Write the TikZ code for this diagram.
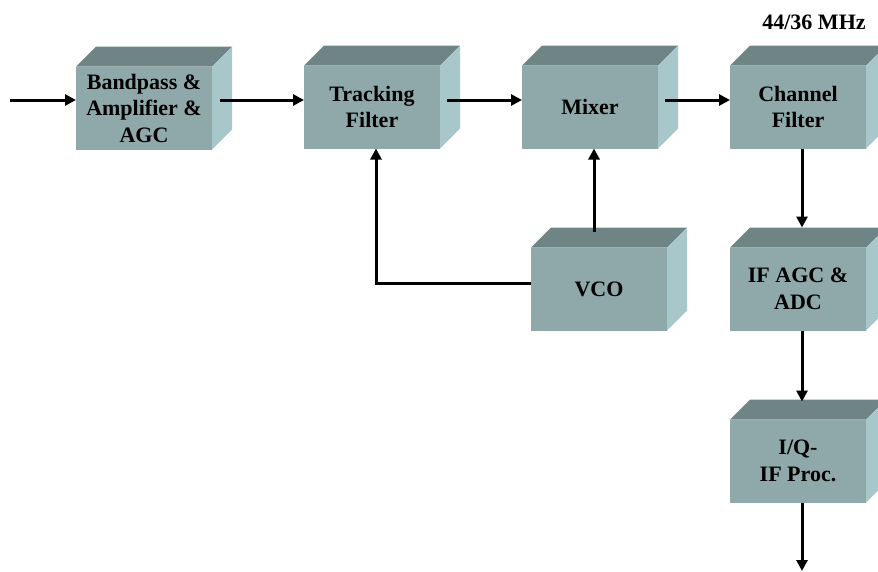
\documentclass[tikz,border=0pt]{standalone}
\usepackage{fontspec}
\setmainfont{Liberation Serif}
\usetikzlibrary{arrows.meta}
\definecolor{frontc}{RGB}{143,169,171}
\definecolor{topc}{RGB}{111,132,132}
\definecolor{sidec}{RGB}{168,199,202}
\tikzset{
  blk/.style={fill=frontc, minimum width=136pt, minimum height=83pt, inner sep=0pt, outer sep=0pt,
    align=center, font=\fontsize{22}{26.5}\selectfont\bfseries},
  conn/.style={line width=3pt, -{Triangle[length=11pt,width=11pt]}},
  wire/.style={line width=3pt}
}
\begin{document}
\begin{tikzpicture}[x=1pt,y=-1pt]
\useasboundingbox (0,0) rectangle (878,571);
\begin{scope}
\clip (0,0) rectangle (878,571);
\node[blk] (bp)  at (144,108) {Bandpass \&\\Amplifier \&\\AGC};
\node[blk] (tf)  at (372,107) {Tracking\\Filter};
\node[blk] (mx)  at (590,107) {Mixer};
\node[blk] (cf)  at (798,107) {Channel\\Filter};
\node[blk] (vco) at (599,289) {VCO};
\node[blk] (agc) at (798,289) {IF AGC \&\\ADC};
\node[blk] (iq)  at (798,461) {I/Q-\\IF Proc.};
\foreach \n in {bp,tf,mx,cf,vco,agc,iq}{
  \fill[topc] (\n.north west) -- ([shift={(20,-20)}]\n.north west) -- ([shift={(20,-20)}]\n.north east) -- (\n.north east) -- cycle;
  \fill[sidec] (\n.north east) -- ([shift={(20,-20)}]\n.north east) -- ([shift={(20,-20)}]\n.south east) -- (\n.south east) -- cycle;
}
\end{scope}
\node[font=\fontsize{22}{26}\selectfont\bfseries] (freq) at (814,22) {44/36 MHz};
\coordinate (in) at (10,100);
\coordinate (out) at (802,571);
\draw[conn] (in) -- (bp.west |- in);
\draw[conn] ([xshift=8pt]bp.east |- in) -- (tf.west |- in);
\draw[conn] ([xshift=7pt]tf.east |- in) -- (mx.west |- in);
\draw[conn] ([xshift=7pt]mx.east |- in) -- (cf.west |- in);
\draw[conn] ([xshift=4pt]cf.south) -- ([shift={(4pt,20pt)}]agc.north);
\draw[conn] ([xshift=4pt]agc.south) -- ([shift={(4pt,18pt)}]iq.north);
\draw[conn] ([xshift=4pt]iq.south) -- (out);
\draw[conn] ([shift={(-5pt,16pt)}]vco.north) -- ([xshift=-5pt]vco.north |- mx.south);
\draw[conn] ([yshift=6pt]vco.west) -| (376,0 |- tf.south);
\end{tikzpicture}
\end{document}
